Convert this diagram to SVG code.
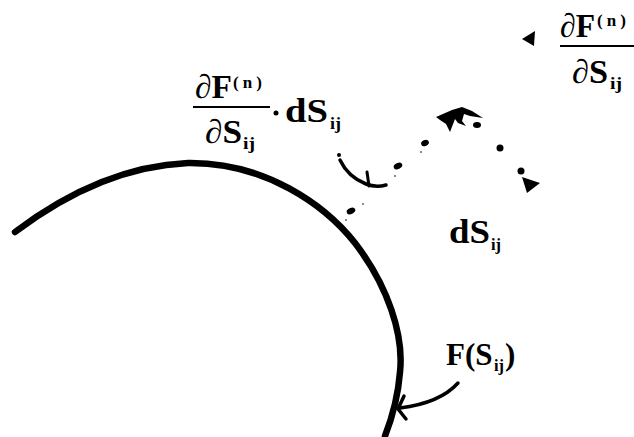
<svg xmlns="http://www.w3.org/2000/svg" width="634" height="437" viewBox="0 0 634 437">
<style>
.t{font-family:"Liberation Serif","Times New Roman",serif;font-weight:bold;fill:#000;font-size:34px}
.mid{font-size:31px}
.sm{font-size:17px}
.ln{fill:none;stroke:#000;stroke-linecap:round;stroke-linejoin:round}
</style>
<rect width="634" height="437" fill="#fff"/>
<g id="surface">
<path class="ln" stroke-width="6.5" d="M15,232 C60,198 120,166 188,163 C265,162 325,205 355,243 C388,286 404,335 400,372 C398,398 392,418 385,436"/>
</g>
<g id="connectors">
<g id="dotted-path" fill="#000">
<ellipse cx="351" cy="211" rx="4.5" ry="3" transform="rotate(-25 351 211)"/>
<ellipse cx="398" cy="166" rx="4.5" ry="3" transform="rotate(-25 398 166)"/>
<ellipse cx="425" cy="143" rx="4" ry="3" transform="rotate(-25 425 143)"/>
<polygon points="436,117 452,110 462,107 472,111 483,118 470,116 464,114 462,121 466,126 458,123 455,119 450,132 446,124 440,120"/>
<ellipse cx="477" cy="125" rx="4" ry="3"/>
<circle cx="500" cy="148" r="3.5"/>
<circle cx="521" cy="171" r="3.5"/>
<polygon points="522,177 540,183 527,193"/>
<circle cx="346" cy="220" r="1" fill="#666"/>
<circle cx="363" cy="204" r="1" fill="#666"/>
<circle cx="395" cy="176" r="1" fill="#666"/>
<circle cx="421" cy="152" r="1" fill="#666"/>
</g>
<g id="hook">
<circle cx="339" cy="155" r="2"/>
<path class="ln" stroke-width="3.5" d="M340,160 Q348,177 366,184 Q376,188 386,185"/>
<path class="ln" stroke-width="3" d="M367,172 L369,186"/>
</g>
<g id="f-arrow">
<path class="ln" stroke-width="3.5" d="M458,383 Q440,403 400,408"/>
<path class="ln" stroke-width="3.5" d="M404,396 L398,409 L406,419"/>
</g>
<polygon id="grad-arrow" points="522,39 535,31 534,46"/>
</g>
<g id="label-product">
<text class="t"><tspan x="195" y="98" textLength="37" lengthAdjust="spacingAndGlyphs">∂F</tspan><tspan class="sm" x="233" y="88" textLength="29" lengthAdjust="spacing">(n)</tspan></text>
<line x1="193" y1="107" x2="270" y2="107" stroke="#000" stroke-width="2"/>
<text class="t"><tspan x="205" y="143" textLength="37" lengthAdjust="spacingAndGlyphs">∂S</tspan><tspan class="sm" x="243" y="149" textLength="12" lengthAdjust="spacingAndGlyphs">ij</tspan></text>
<circle cx="276" cy="113" r="2.5"/>
<text class="t"><tspan x="285" y="122" textLength="43" lengthAdjust="spacingAndGlyphs">dS</tspan><tspan class="sm" x="330" y="129" textLength="11" lengthAdjust="spacingAndGlyphs">ij</tspan></text>
</g>
<g id="label-gradient">
<text class="t"><tspan x="560" y="37" textLength="35" lengthAdjust="spacingAndGlyphs">∂F</tspan><tspan class="sm" x="597" y="26" textLength="29" lengthAdjust="spacing">(n)</tspan></text>
<line x1="560" y1="46" x2="634" y2="46" stroke="#000" stroke-width="2"/>
<text class="t"><tspan x="572" y="83" textLength="36" lengthAdjust="spacingAndGlyphs">∂S</tspan><tspan class="sm" x="610" y="89" textLength="12" lengthAdjust="spacingAndGlyphs">ij</tspan></text>
</g>
<g id="label-ds">
<text class="t"><tspan x="449" y="243" textLength="41" lengthAdjust="spacingAndGlyphs">dS</tspan><tspan class="sm" x="491" y="250" textLength="10" lengthAdjust="spacingAndGlyphs">ij</tspan></text>
</g>
<g id="label-f">
<text class="t mid"><tspan x="446" y="365">F(S</tspan><tspan class="sm" x="494" y="371" textLength="10" lengthAdjust="spacingAndGlyphs">ij</tspan><tspan x="505" y="365">)</tspan></text>
</g>
</svg>
